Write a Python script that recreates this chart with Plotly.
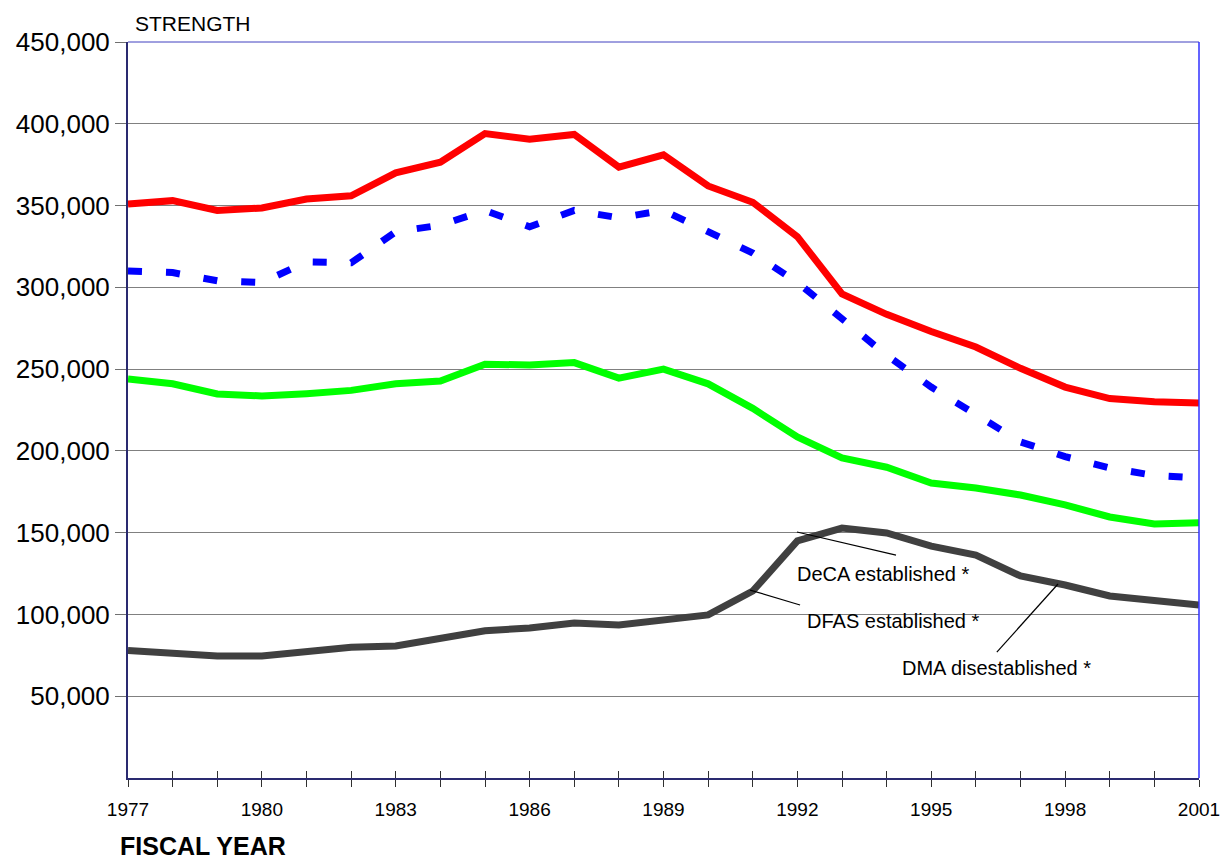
import plotly.graph_objects as go

years = list(range(1977, 2002))

total = [351000, 353000, 347000, 348500, 354000, 356000, 370000, 376500, 394000, 390500,
         393500, 373500, 381000, 362000, 352000, 331000, 296000, 283500, 273000, 263500,
         250500, 239000, 232000, 230000, 229300]
second = [310000, 309000, 304000, 303000, 315500, 315000, 334000, 338000, 347000, 337000,
          347000, 342500, 347000, 334000, 321000, 303000, 281000, 258500, 239000, 222000,
          205500, 196500, 189500, 185000, 183500]
third = [244000, 241000, 234800, 233600, 235000, 237000, 241000, 242700, 253000, 252500,
         254000, 244500, 250000, 241000, 226000, 208500, 195700, 190000, 180400, 177300,
         173000, 167000, 159600, 155300, 156000]
agencies = [78000, 75800, 74600, 74600, 77600, 80000, 80700, 85000, 90000, 91700,
            94800, 93500, 96600, 99700, 114300, 145000, 152800, 149800, 141800, 136300,
            123500, 118000, 111300, 108200, 105800]

y_ticks = [50000, 100000, 150000, 200000, 250000, 300000, 350000, 400000, 450000]
x_label_ticks = [1977, 1980, 1983, 1986, 1989, 1992, 1995, 1998, 2001]

notes = ["DeCA established *", "DFAS established *", "DMA disestablished *"]
note_text_x = [1991.95, 1992.17, 1994.3]
note_text_y = [124500, 96000, 67250]
leader_x0 = [1991.99, 1990.94, 1997.84]
leader_y0 = [150400, 114900, 118600]
leader_x1 = [1994.21, 1992.06, 1996.47]
leader_y1 = [136300, 105800, 77000]

FONT = "Liberation Sans, Arial, sans-serif"

fig = go.Figure()
fig.add_trace(go.Scatter(x=years, y=agencies, mode="lines",
                         line=dict(color="#404040", width=7)))
fig.add_trace(go.Scatter(x=years, y=third, mode="lines",
                         line=dict(color="#00ff00", width=7)))
fig.add_trace(go.Scatter(x=years, y=second, mode="lines",
                         line=dict(color="#0000ff", width=7, dash="14px,24px")))
fig.add_trace(go.Scatter(x=years, y=total, mode="lines",
                         line=dict(color="#ff0000", width=7)))
# invisible trace to activate secondary x-axis for inward ticks
fig.add_trace(go.Scatter(x=[1977], y=[0], xaxis="x2", mode="markers",
                         marker=dict(opacity=0), hoverinfo="skip"))

for i in range(len(notes)):
    fig.add_shape(type="line", x0=leader_x0[i], y0=leader_y0[i], x1=leader_x1[i], y1=leader_y1[i],
                  xref="x", yref="y", line=dict(color="black", width=1.2))
    fig.add_annotation(x=note_text_x[i], y=note_text_y[i], text=notes[i], showarrow=False,
                       xanchor="left", yanchor="middle", font=dict(size=20, color="black", family=FONT))

# top and right plot border (blue)
fig.add_shape(type="line", xref="paper", yref="paper", x0=0, y0=1, x1=1, y1=1,
              line=dict(color="#4040c0", width=1))
fig.add_shape(type="line", xref="paper", yref="paper", x0=1, y0=0, x1=1, y1=1,
              line=dict(color="#3030ff", width=1.5))

fig.add_annotation(text="STRENGTH", xref="paper", yref="paper", x=0.005, y=1.0, yshift=5,
                   xanchor="left", yanchor="bottom", showarrow=False,
                   font=dict(size=21, color="black", family=FONT))
fig.add_annotation(text="<b>FISCAL YEAR</b>", xref="paper", yref="paper", x=-0.009, y=0, yshift=-52,
                   xanchor="left", yanchor="top", showarrow=False,
                   font=dict(size=25, color="black", family=FONT))

fig.update_layout(
    width=1224, height=859,
    margin=dict(l=128, r=25, t=42, b=81, autoexpand=False),
    paper_bgcolor="white", plot_bgcolor="white",
    showlegend=False,
    font=dict(family=FONT, color="black"),
    xaxis=dict(range=[1977, 2001], tickmode="array", tickvals=x_label_ticks,
               ticktext=[str(v) for v in x_label_ticks], automargin=False,
               ticks="outside", ticklen=7, tickcolor="#303030", tickwidth=1,
               minor=dict(dtick=1, tick0=1977, ticks="outside", ticklen=7, tickcolor="#303030", showgrid=False),
               showgrid=False, zeroline=False, showline=True, linecolor="#2a2a70", linewidth=2,
               tickfont=dict(size=19, family=FONT), ticklabelstandoff=6),
    xaxis2=dict(range=[1977, 2001], overlaying="x", side="bottom", anchor="y", automargin=False,
                tickmode="linear", tick0=1977, dtick=1, ticks="inside", ticklen=7,
                tickcolor="#303030", showticklabels=False, showgrid=False, zeroline=False,
                showline=False),
    yaxis=dict(range=[0, 450000], tickmode="array", tickvals=y_ticks,
               ticktext=[f"{v:,}" for v in y_ticks], automargin=False,
               ticks="outside", ticklen=11, tickcolor="#707070",
               showgrid=True, gridcolor="#808080", gridwidth=1,
               zeroline=False, showline=True, linecolor="#2a2a70", linewidth=2,
               tickfont=dict(size=26, family=FONT)),
)

fig.write_html("out.html", config={"displayModeBar": False},
               post_script="document.body.style.margin='0';document.body.style.overflow='hidden';")
